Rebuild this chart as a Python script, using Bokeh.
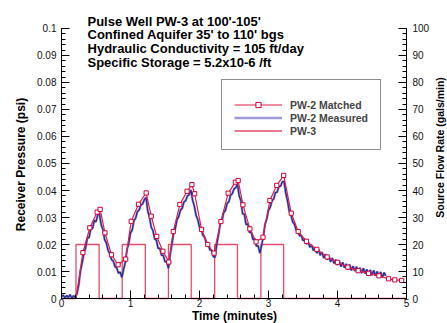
import numpy as np
from bokeh.plotting import figure
from bokeh.models import Range1d, LinearAxis, FixedTicker, Label, Legend, LegendItem
from bokeh.embed import file_html
from bokeh.resources import INLINE

# ---------------- data ----------------
measured_dt = 0.025  # minutes between measured samples
pw2_measured_mpsi = [
    0.6, 1.3, 0.2, 1.1, 0.4, 1.4, 0.1, 1.0, 0.5,
    1.8, 5.0, 10.2, 13.2, 17.0, 18.8, 22.4, 22.6, 25.8, 25.9, 28.9, 28.4, 31.0, 31.4,
    27.2, 25.6, 21.8, 20.6, 17.8, 16.6, 14.4, 13.9, 11.8, 11.4, 9.4, 9.8, 7.8,
    10.8, 13.4, 18.2, 20.4, 24.2, 25.4, 28.8, 29.8, 32.2, 32.8, 34.6, 35.0, 36.6, 37.4,
    32.4, 30.2, 26.4, 25.2, 22.0, 21.6, 18.6, 18.6, 16.0, 16.0, 13.6, 13.6, 11.2,
    16.2, 20.0, 24.2, 26.0, 29.2, 30.4, 32.8, 33.4, 35.8, 36.2, 38.0, 38.4, 40.2,
    36.4, 34.2, 30.8, 29.2, 26.4, 25.6, 23.4, 22.6, 20.4, 20.2, 18.0, 17.8, 15.6, 15.2,
    20.0, 23.4, 27.6, 28.8, 31.8, 32.6, 35.2, 35.8, 38.2, 38.8, 40.6, 41.0, 42.4,
    38.0, 36.2, 31.4, 31.2, 27.4, 27.6, 24.4, 24.6, 21.8, 22.2, 19.4, 19.6, 16.8,
    19.6, 23.0, 27.6, 29.4, 32.6, 33.8, 36.2, 36.8, 39.2, 39.4, 41.4, 41.6, 43.2, 43.4,
    39.0, 36.2, 32.4, 31.0, 28.4, 27.6, 25.4, 25.0, 23.2, 23.4, 21.4, 22.0,
    20.2, 20.8, 19.0, 19.8, 17.8, 18.9, 16.8, 18.2, 16.0, 17.2,
    15.0, 16.4, 14.4, 15.6, 13.6, 15.0, 13.0, 14.4, 12.4, 13.8,
    11.8, 13.4, 11.4, 12.8, 10.8, 12.6, 10.4, 12.0, 10.2, 11.8,
    9.8, 11.4, 9.4, 11.2, 9.2, 10.8, 8.8, 10.6, 8.6, 10.4,
    8.4, 10.0, 8.2, 9.8, 7.8, 9.6, 8.4,
]  # milli-psi

matched_time = [0.21, 0.31, 0.41, 0.517, 0.56, 0.63, 0.725, 0.82, 0.93, 1.01, 1.116,
                1.227, 1.30, 1.38, 1.47, 1.555, 1.62, 1.715, 1.82, 1.89, 1.93, 2.03,
                2.12, 2.21, 2.31, 2.415, 2.52, 2.56, 2.63, 2.73, 2.82, 2.92, 3.02,
                3.12, 3.22, 3.33, 3.43, 3.55, 3.70, 3.85, 4.00, 4.15, 4.30, 4.45,
                4.60, 4.74, 4.83, 4.93]
matched_mpsi = [0.0, 17.0, 26.2, 32.0, 33.0, 24.3, 16.2, 12.5, 14.6, 28.6, 34.9,
                39.1, 30.5, 23.0, 17.5, 13.5, 24.8, 34.8, 39.7, 42.2, 38.8, 25.6,
                20.0, 16.8, 28.5, 39.0, 43.1, 43.7, 34.7, 25.8, 21.0, 22.7, 36.3,
                41.9, 45.6, 31.6, 24.8, 21.2, 18.2, 15.4, 13.4, 11.6, 10.3, 9.3,
                8.4, 7.3, 6.9, 6.7]

pulse_start = [0.21, 0.88, 1.55, 2.22, 2.89]      # minutes
pulse_end = [0.545, 1.215, 1.88, 2.55, 3.22]      # minutes
pulse_rate = 20                                    # gals/min
record_end = 5.0

x_ticks = [0, 1, 2, 3, 4, 5]
y_ticks = [0, 0.01, 0.02, 0.03, 0.04, 0.05, 0.06, 0.07, 0.08, 0.09, 0.1]
y_tick_labels = ["0", "0.01", "0.02", "0.03", "0.04", "0.05", "0.06", "0.07", "0.08", "0.09", "0.1"]
flow_ticks = [0, 10, 20, 30, 40, 50, 60, 70, 80, 90, 100]

title_lines = ["Pulse Well PW-3 at 100'-105'",
               "Confined Aquifer 35' to 110' bgs",
               "Hydraulic Conductivity = 105 ft/day",
               "Specific Storage = 5.2x10-6 /ft"]

# ---------------- derived series ----------------
meas_y = np.array(pw2_measured_mpsi) / 1000.0
meas_x = np.arange(len(meas_y)) * measured_dt
match_x = np.array(matched_time)
match_y = np.array(matched_mpsi) / 1000.0

flow_x = [0.0]
flow_y = [0.0]
for s, e in zip(pulse_start, pulse_end):
    flow_x += [s, s, e, e]
    flow_y += [0, pulse_rate, pulse_rate, 0]
flow_x.append(record_end)
flow_y.append(0)

FONT = "Liberation Sans"
# the frame fills the whole canvas; axes sit at fixed data locations inside it
X_MIN, X_MAX = -0.88406, 5.5942
Y_MIN, Y_MAX = -0.009259, 0.110370

p = figure(width=447, height=323, x_range=Range1d(X_MIN, X_MAX), y_range=Range1d(Y_MIN, Y_MAX),
           output_backend="svg", toolbar_location=None, title=None,
           min_border=0, min_border_left=0, min_border_right=0, min_border_top=0, min_border_bottom=0)
p.extra_y_ranges = {"flow": Range1d(Y_MIN * 1000, Y_MAX * 1000)}
p.grid.visible = False
p.outline_line_color = None
p.background_fill_color = "white"
p.border_fill_color = "white"

right = LinearAxis(y_range_name="flow", bounds=(0, 100), fixed_location=5)
p.add_layout(right, "right")

xax = p.xaxis[0]
yax = p.yaxis[0]
xax.fixed_location = 0
xax.bounds = (0, 5)
yax.fixed_location = 0
yax.bounds = (0, 0.1)
xax.ticker = FixedTicker(ticks=x_ticks, minor_ticks=list(np.round(np.arange(0, 5.001, 0.2), 3)))
yax.ticker = FixedTicker(ticks=y_ticks, minor_ticks=list(np.round(np.arange(0, 0.1001, 0.002), 4)))
yax.major_label_overrides = {t: l for t, l in zip(y_ticks, y_tick_labels)}
right.ticker = FixedTicker(ticks=flow_ticks, minor_ticks=list(range(0, 101, 2)))

for ax in [xax, yax, right]:
    ax.axis_line_color = "black"
    ax.axis_line_width = 1
    ax.major_tick_in = 8
    ax.major_tick_out = 0
    ax.minor_tick_in = 4
    ax.minor_tick_out = 0
    ax.major_tick_line_color = "black"
    ax.minor_tick_line_color = "black"
    ax.major_label_text_font = FONT
    ax.major_label_text_font_size = "10px"
    ax.major_label_text_color = "#111111"
xax.major_label_standoff = 0
yax.major_label_standoff = 5
right.major_label_standoff = 6

# ---------------- glyphs ----------------
flow_r = p.line(flow_x, flow_y, y_range_name="flow", line_color="#e64a6d", line_width=1.3)
halo_r = p.line(meas_x, meas_y, line_color="#7d7bc9", line_width=2.4, line_alpha=0.75)
core_r = p.line(meas_x, meas_y, line_color="#2a2a8c", line_width=1.3)
match_line = p.line(match_x, match_y, line_color="#e01e48", line_width=1.2)
match_pts = p.scatter(match_x[1:], match_y[1:], marker="square", size=4.2,
                      line_color="#d4003a", fill_color="white", line_width=1)

legend = Legend(items=[LegendItem(label="PW-2 Matched", renderers=[match_line, match_pts]),
                       LegendItem(label="PW-2 Measured", renderers=[halo_r]),
                       LegendItem(label="PW-3", renderers=[flow_r])],
                location=(221, 173), title=" ", title_text_font_size="2px", title_standoff=4,
                padding=12, spacing=0, margin=0, glyph_width=48, glyph_height=13,
                label_height=13, label_standoff=8,
                label_text_font=FONT, label_text_font_size="10.5px", label_text_font_style="bold",
                border_line_color="#222222", border_line_width=1,
                background_fill_color="white", background_fill_alpha=1)
p.add_layout(legend)

# ---------------- texts ----------------
title_y = [0.1027, 0.09763, 0.09241, 0.0873]
for txt, ty in zip(title_lines, title_y):
    p.add_layout(Label(x=0.377, y=ty, text=txt, text_font=FONT, text_font_size="13px",
                       text_font_style="bold", text_align="left", text_baseline="alphabetic",
                       text_color="black"))

p.add_layout(Label(x=-0.5942, y=0.04963, text="Receiver Pressure (psi)", angle=np.pi / 2,
                   text_font=FONT, text_font_size="12px", text_font_style="bold",
                   text_align="center", text_baseline="middle", text_color="black"))
p.add_layout(Label(x=5.4783, y=0.05593, text="Source Flow Rate (gals/min)", angle=np.pi / 2,
                   text_font=FONT, text_font_size="10.5px", text_font_style="bold",
                   text_align="center", text_baseline="middle", text_color="black"))
p.add_layout(Label(x=2.507, y=-0.00648, text="Time (minutes)",
                   text_font=FONT, text_font_size="12px", text_font_style="bold",
                   text_align="center", text_baseline="alphabetic", text_color="black"))

open("out.html", "w").write(file_html(p, INLINE))
